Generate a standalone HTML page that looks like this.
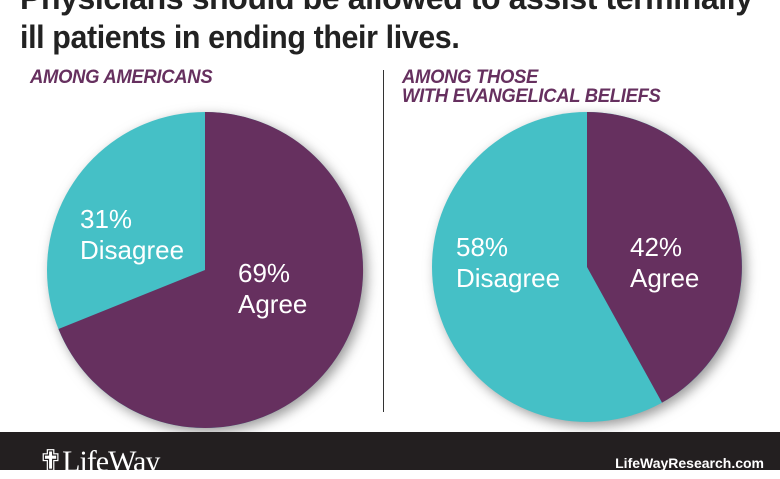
<!DOCTYPE html>
<html><head><style>
body{margin:0;width:780px;height:470px;overflow:hidden;background:#fff;font-family:"Liberation Sans",sans-serif;position:relative}
.t{position:absolute;left:20px;font-weight:bold;font-size:32px;color:#222;letter-spacing:-0.4px;white-space:nowrap;transform-origin:left}
.s{position:absolute;font-weight:bold;font-style:italic;font-size:19px;color:#66305f;line-height:19px;transform:scaleX(0.97);transform-origin:left;white-space:nowrap;letter-spacing:-0.3px}
.foot{position:absolute;left:0;top:432px;width:780px;height:38px;background:#231f20}
</style></head><body>
<div class="t" style="top:-20px">Physicians should be allowed to assist terminally</div>
<div class="t" style="top:19px;transform:scaleX(0.95)">ill patients in ending their lives.</div>
<div class="s" style="left:30px;top:68px">AMONG AMERICANS</div>
<div class="s" style="left:402px;top:68px">AMONG THOSE<br>WITH EVANGELICAL BELIEFS</div>
<div style="position:absolute;left:383px;top:70px;width:1px;height:342px;background:#333"></div>
<svg width="780" height="470" style="position:absolute;left:0;top:0">
<defs><filter id="sh" x="-20%" y="-20%" width="140%" height="140%"><feGaussianBlur stdDeviation="6"/></filter></defs>
<circle cx="209" cy="274" r="158" fill="#999" filter="url(#sh)"/>
<circle cx="591" cy="271" r="155" fill="#999" filter="url(#sh)"/>
<circle cx="205" cy="270" r="158" fill="#45c0c6"/>
<path d="M205,270 L205,112 A158,158 0 1 1 58.5,329 Z" fill="#66305f"/>
<circle cx="587" cy="267" r="155" fill="#45c0c6"/>
<path d="M587,267 L587,112 A155,155 0 0 1 662,402.6 Z" fill="#66305f"/>
<g fill="#fff" font-family="Liberation Sans,sans-serif" font-size="26">
<text x="80" y="228">31%</text><text x="80" y="259">Disagree</text>
<text x="238" y="282">69%</text><text x="238" y="313">Agree</text>
<text x="456" y="256">58%</text><text x="456" y="287">Disagree</text>
<text x="630" y="256">42%</text><text x="630" y="287">Agree</text>
</g>
</svg>
<div class="foot">
<div style="position:absolute;left:38px;top:12px;color:#fff;font-family:'Liberation Serif',serif;font-size:30px;letter-spacing:-1px">✟LifeWay</div>
<div style="position:absolute;right:16px;top:23px;color:#fff;font-weight:bold;font-size:14px">LifeWayResearch.com</div>
</div>
</body></html>
